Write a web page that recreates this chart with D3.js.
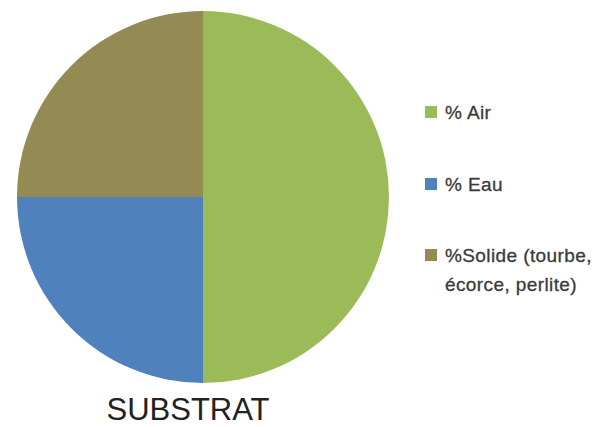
<!DOCTYPE html>
<html>
<head>
<meta charset="utf-8">
<script src="https://cdn.jsdelivr.net/npm/d3@7"></script>
<style>
  body { margin: 0; background: #fff; }
  svg { display: block; }
</style>
</head>
<body>
<svg id="chart" width="602" height="427"></svg>
<script>
// Composition of the growing substrate (share of volume)
const categories = ["% Air", "% Eau", "%Solide (tourbe, écorce, perlite)"];
const values = [50, 25, 25];
const legendLines = [["% Air"], ["% Eau"], ["%Solide (tourbe,", "écorce, perlite)"]];
const colors = ["#9BBB59", "#4F81BD", "#948A54"];
const title = "SUBSTRAT";

const svg = d3.select("#chart");
const cx = 203, cy = 197, r = 186;

const data = categories.map((c, i) => ({ name: c, value: values[i], color: colors[i], lines: legendLines[i] }));

const pie = d3.pie().sort(null).value(d => d.value);
const arc = d3.arc().innerRadius(0).outerRadius(r);

svg.append("g")
  .attr("transform", `translate(${cx},${cy})`)
  .selectAll("path")
  .data(pie(data))
  .join("path")
  .attr("d", arc)
  .attr("fill", d => d.data.color);

// Legend: swatch plus one or two lines of label text
const legendY = [112, 184, 255];
const lg = svg.append("g");
data.forEach((d, i) => {
  const g = lg.append("g").attr("transform", `translate(425,${legendY[i]})`);
  g.append("rect").attr("x", 0).attr("y", -6).attr("width", 12).attr("height", 12).attr("fill", d.color);
  const t = g.append("text")
    .attr("x", 20).attr("y", 7)
    .attr("font-family", "Liberation Sans, Arial, sans-serif")
    .attr("font-size", 19)
    .attr("letter-spacing", 0.4)
    .attr("fill", "#3a3a3a")
    .attr("stroke", "#3a3a3a")
    .attr("stroke-width", 0.3);
  d.lines.forEach((ln, j) => {
    t.append("tspan").attr("x", 20).attr("dy", j === 0 ? 0 : 29).text(ln);
  });
});

// Title under the pie
svg.append("text")
  .attr("x", 188).attr("y", 420)
  .attr("text-anchor", "middle")
  .attr("font-family", "Liberation Sans, Arial, sans-serif")
  .attr("font-size", 31)
  .attr("fill", "#222")
  .text(title);
</script>
</body>
</html>
